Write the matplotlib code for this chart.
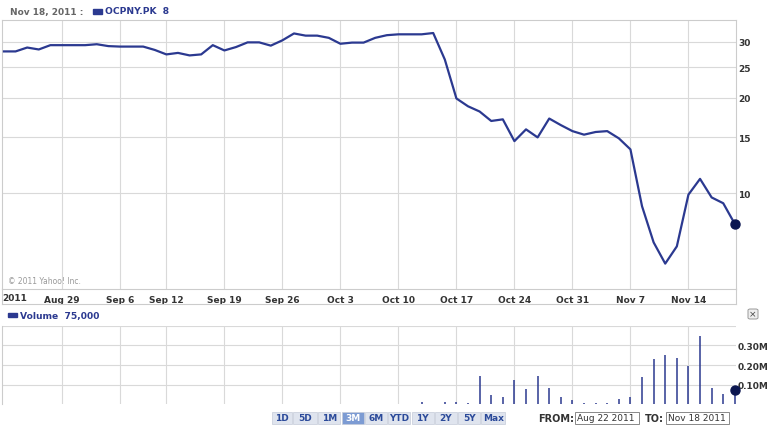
import matplotlib
matplotlib.use("Agg")
import matplotlib.pyplot as plt
from matplotlib.patches import Rectangle, FancyBboxPatch
from matplotlib.lines import Line2D

# ---- data ----
price = [28.0, 28.0, 28.8, 28.4, 29.3, 29.3, 29.3, 29.3, 29.5, 29.1,
         29.0, 29.0, 29.0, 28.3, 27.4, 27.7, 27.2, 27.4, 29.3, 28.2,
         28.9, 29.9, 29.9, 29.2, 30.35, 31.9, 31.4, 31.4, 30.9, 29.6,
         29.85, 29.85, 30.9, 31.5, 31.7, 31.7, 31.7, 32.0, 26.4, 19.9,
         18.8, 18.1, 16.9, 17.1, 14.6, 15.9, 15.0, 17.2, 16.4, 15.7,
         15.3, 15.6, 15.7, 14.9, 13.75, 9.1, 7.0, 6.0, 6.8, 9.9,
         11.1, 9.7, 9.3, 8.0]
volume = [0, 0, 0, 0, 0, 0, 0, 0, 0, 0,
          0, 0, 0, 3000, 0, 0, 0, 3000, 0, 0,
          0, 0, 0, 0, 0, 0, 0, 0, 0, 0,
          0, 0, 0, 0, 0, 0, 10000, 0, 10000, 10000,
          5000, 146000, 47000, 37000, 124000, 78000, 144000, 85000, 37000, 22000,
          8000, 8000, 8000, 27000, 37000, 139000, 228000, 253000, 236000, 197000,
          350000, 82000, 53000, 75000]
week_idx = [5, 10, 14, 19, 24, 29, 34, 39, 44, 49, 54, 59]
week_labels = ["Aug 29", "Sep 6", "Sep 12", "Sep 19", "Sep 26", "Oct 3",
               "Oct 10", "Oct 17", "Oct 24", "Oct 31", "Nov 7", "Nov 14"]
price_ticks = [10, 15, 20, 25, 30]
vol_ticks = [100000, 200000, 300000]
vol_tick_labels = ["0.10M", "0.20M", "0.30M"]
buttons = ["1D", "5D", "1M", "3M", "6M", "YTD", "1Y", "2Y", "5Y", "Max"]
active_button = "3M"

W, H = 775, 431
NAVY = "#2b3990"
DOT = "#0b1650"
GRID = "#d9d9d9"
LBL = "#333333"

fig = plt.figure(figsize=(W / 100, H / 100), dpi=100)
fig.patch.set_facecolor("white")


def box(x0, y0, x1, y1):
    return [x0 / W, 1 - y1 / H, (x1 - x0) / W, (y1 - y0) / H]


def px(x, y):
    return x / W, 1 - y / H


xidx = list(range(len(price)))
xl = (-0.17, 63.1)

# ---- price axes ----
ax = fig.add_axes(box(2, 20.7, 736, 290))
ax.plot(xidx, price, color=NAVY, lw=1.6, solid_joinstyle="round", zorder=3)
ax.plot([xidx[-1]], [price[-1]], "o", color=DOT, ms=6.5, clip_on=False, zorder=4)
ax.set_yscale("log")
ax.set_ylim(4.99, 35.25)
ax.set_xlim(*xl)
ax.yaxis.tick_right()
ax.set_yticks(price_ticks)
ax.set_yticklabels([str(t) for t in price_ticks])
ax.yaxis.set_minor_locator(matplotlib.ticker.NullLocator())
ax.set_xticks(week_idx)
ax.set_xticklabels(week_labels)
ax.tick_params(axis="both", length=0, labelsize=6.5, labelcolor=LBL)
ax.tick_params(axis="y", pad=1.5)
ax.tick_params(axis="x", pad=4)
for lbl in ax.get_xticklabels() + ax.get_yticklabels():
    lbl.set_fontweight("bold")
ax.grid(True, color=GRID, lw=0.8)
ax.set_axisbelow(True)
for s in ax.spines.values():
    s.set_color("#cccccc")
    s.set_linewidth(0.8)
ax.text(0.0, -0.033, "2011", transform=ax.transAxes, ha="left", va="center",
        fontsize=6.5, fontweight="bold", color=LBL)
ax.text(0.008, 0.03, "\u00a9 2011 Yahoo! Inc.", transform=ax.transAxes,
        ha="left", va="center", fontsize=5.5, color="#999999")

# label row border
fig.add_artist(Line2D([2 / W, 736 / W], [1 - 305 / H, 1 - 305 / H], color="#cccccc", lw=0.8))
fig.add_artist(Line2D([736 / W, 736 / W], [1 - 305 / H, 1 - 290 / H], color="#cccccc", lw=0.8))
fig.add_artist(Line2D([2 / W, 2 / W], [1 - 305 / H, 1 - 290 / H], color="#cccccc", lw=0.8))

# header
fig.text(*px(10, 12), "Nov 18, 2011 :", fontsize=6.5, fontweight="bold",
         color="#666666", ha="left", va="center")
fig.add_artist(Rectangle(px(92.7, 14.5), 9 / W, 4.5 / H, color=NAVY, transform=fig.transFigure))
fig.text(*px(105, 12), "OCPNY.PK  8", fontsize=6.6, fontweight="bold",
         color=NAVY, ha="left", va="center")

# ---- volume axes ----
ax2 = fig.add_axes(box(2, 326.7, 736, 405.3))
ax2.vlines(xidx, 0, volume, color=NAVY, lw=1.1, zorder=3)
ax2.plot([xidx[-1]], [volume[-1]], "o", color=DOT, ms=6.5, clip_on=False, zorder=4)
ax2.set_xlim(*xl)
ax2.set_ylim(0, 400000)
ax2.yaxis.tick_right()
ax2.set_yticks(vol_ticks + [400000])
ax2.set_yticklabels(vol_tick_labels + [""])
ax2.set_xticks(week_idx)
ax2.set_xticklabels([])
ax2.tick_params(axis="both", length=0, labelsize=6.5, labelcolor=LBL)
ax2.tick_params(axis="y", pad=1.5)
for lbl in ax2.get_yticklabels():
    lbl.set_fontweight("bold")
ax2.grid(True, color=GRID, lw=0.8)
ax2.set_axisbelow(True)
for s in ax2.spines.values():
    s.set_visible(False)
ax2.spines["left"].set_visible(True)
ax2.spines["left"].set_color("#cccccc")

fig.add_artist(Rectangle(px(8, 318), 9 / W, 4.5 / H, color=NAVY, transform=fig.transFigure))
fig.text(*px(20, 316), "Volume  75,000", fontsize=6.6, fontweight="bold",
         color=NAVY, ha="left", va="center")

# close button
fig.add_artist(FancyBboxPatch(px(748, 320), 10 / W, 10 / H, boxstyle="round,pad=0,rounding_size=0.003",
                              transform=fig.transFigure, facecolor="#eeeeee",
                              edgecolor="#999999", lw=0.7))
fig.text(*px(753, 314.5), "\u00d7", fontsize=6.5, color="#444444", ha="center", va="center")

# ---- range buttons ----
bx = 271.7
bw = [21.6, 25, 23.3, 23.3, 23.3, 23.3, 23.3, 23.3, 23.3, 25]
for lab, w in zip(buttons, bw):
    active = lab == active_button
    fig.add_artist(Rectangle(px(bx, 425), (w - 1.2) / W, 12 / H, transform=fig.transFigure,
                             facecolor="#7c9bd3" if active else "#dfe4ee",
                             edgecolor="#c5cbd8", lw=0.5))
    fig.text(*px(bx + (w - 1.2) / 2, 419), lab, fontsize=6.5, fontweight="bold",
             color="white" if active else "#2b4a9a", ha="center", va="center")
    bx += w

fig.text(*px(538, 419), "FROM:", fontsize=7, fontweight="bold", color="#333333",
         ha="left", va="center")
fig.add_artist(Rectangle(px(575, 425), 64 / W, 12 / H, transform=fig.transFigure,
                         facecolor="white", edgecolor="#888888", lw=0.7))
fig.text(*px(577, 419), "Aug 22 2011", fontsize=6.5, color="#333333", ha="left", va="center")
fig.text(*px(645, 419), "TO:", fontsize=7, fontweight="bold", color="#333333",
         ha="left", va="center")
fig.add_artist(Rectangle(px(666, 425), 63.3 / W, 12 / H, transform=fig.transFigure,
                         facecolor="white", edgecolor="#888888", lw=0.7))
fig.text(*px(668, 419), "Nov 18 2011", fontsize=6.5, color="#333333", ha="left", va="center")

fig.savefig("out.png", dpi=100, facecolor="white")
